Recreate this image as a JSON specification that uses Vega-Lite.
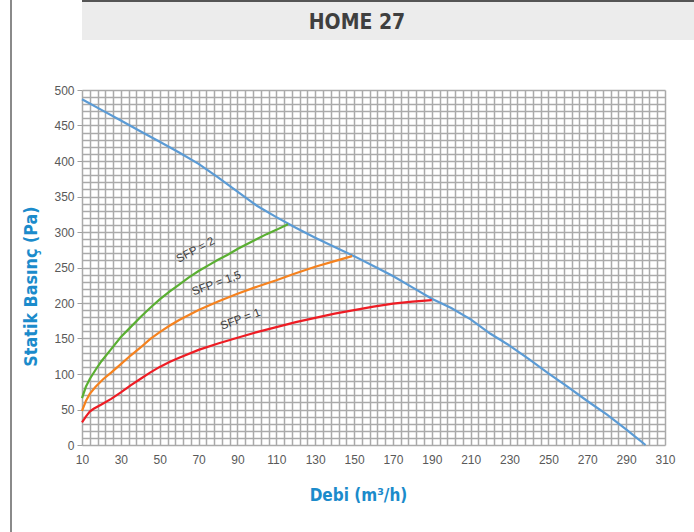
{
  "$schema": "https://vega.github.io/schema/vega-lite/v6.json",
  "background": "white",
  "padding": {"left": 10, "top": 0, "right": 0, "bottom": 0},
  "spacing": 0,
  "config": {"view": {"stroke": null}},
  "hconcat": [
    {
      "width": 2,
      "height": 532,
      "view": {"fill": "#8a8a8a", "stroke": null},
      "data": {"values": []},
      "mark": "rect",
      "encoding": {}
    },
    {
      "columns": 1,
      "spacing": 44,
      "align": "none",
      "concat": [
        {
          "spacing": 0,
          "vconcat": [
            {
              "width": 612,
              "height": 2,
              "view": {"fill": "#555555", "stroke": null},
              "data": {"values": []},
              "mark": "rect",
              "encoding": {}
            },
            {
              "width": 612,
              "height": 38,
              "view": {"fill": "#ececec", "stroke": null},
              "data": {"values": [{"t": "HOME 27"}]},
              "mark": {"type": "text", "font": "Liberation Sans Narrow, DejaVu Sans Condensed, sans-serif", "fontSize": 21, "fontWeight": "bold", "color": "#3f3f3f", "align": "center", "baseline": "middle", "dx": -31, "dy": 2},
              "encoding": {"text": {"field": "t", "type": "nominal"}}
            }
          ]
        },
        {
          "width": 583,
          "height": 355,
          "title": {"text": " ", "orient": "left", "fontSize": 1, "offset": 9},
          "layer": [
            {
              "data": {"values": [
                {"q": 10, "p": 487}, {"q": 20, "p": 472}, {"q": 30, "p": 457}, {"q": 40, "p": 442},
                {"q": 50, "p": 427}, {"q": 60, "p": 412}, {"q": 70, "p": 396}, {"q": 80, "p": 377},
                {"q": 90, "p": 357}, {"q": 100, "p": 337}, {"q": 110, "p": 321}, {"q": 120, "p": 306},
                {"q": 130, "p": 292}, {"q": 140, "p": 279}, {"q": 150, "p": 266}, {"q": 160, "p": 252},
                {"q": 170, "p": 238}, {"q": 180, "p": 222}, {"q": 190, "p": 206}, {"q": 200, "p": 193},
                {"q": 210, "p": 177}, {"q": 220, "p": 157}, {"q": 230, "p": 140}, {"q": 240, "p": 121},
                {"q": 250, "p": 101}, {"q": 260, "p": 82}, {"q": 270, "p": 62}, {"q": 280, "p": 43},
                {"q": 290, "p": 22}, {"q": 300, "p": 0}
              ]},
              "mark": {"type": "line", "color": "#5b9bd5", "strokeWidth": 2.2},
              "encoding": {
                "x": {
                  "field": "q", "type": "quantitative",
                  "scale": {"domain": [10, 310], "nice": false, "zero": false},
                  "axis": {
                    "title": "Debi (m³/h)",
                    "tickCount": 200,
                    "values": [10,14,18,22,26,30,34,38,42,46,50,54,58,62,66,70,74,78,82,86,90,94,98,102,106,110,114,118,122,126,130,134,138,142,146,150,154,158,162,166,170,174,178,182,186,190,194,198,202,206,210,214,218,222,226,230,234,238,242,246,250,254,258,262,266,270,274,278,282,286,290,294,298,302,306,310],
                    "labelExpr": "(datum.value - 10) % 20 === 0 ? datum.label : ''",
                    "grid": true, "gridColor": "#aaaaaa", "gridWidth": 1.5,
                    "domain": false, "ticks": false,
                    "labelFont": "Liberation Sans", "labelFontSize": 12, "labelColor": "#595959",
                    "labelPadding": 9, "labelOverlap": false, "labelFlush": false,
                    "titleFont": "Liberation Sans Narrow, DejaVu Sans Condensed, sans-serif",
                    "titleFontSize": 17, "titleFontWeight": "bold", "titleColor": "#1b8bcb",
                    "titlePadding": 22, "titleX": 276
                  }
                },
                "y": {
                  "field": "p", "type": "quantitative",
                  "scale": {"domain": [0, 500], "nice": false},
                  "axis": {
                    "title": "Statik Basınç (Pa)",
                    "tickCount": 200,
                    "values": [0,10,20,30,40,50,60,70,80,90,100,110,120,130,140,150,160,170,180,190,200,210,220,230,240,250,260,270,280,290,300,310,320,330,340,350,360,370,380,390,400,410,420,430,440,450,460,470,480,490,500],
                    "labelExpr": "datum.value % 50 === 0 ? datum.label : ''",
                    "grid": true, "gridColor": "#aaaaaa", "gridWidth": 1.5,
                    "domain": false,
                    "ticks": true, "tickSize": 5, "tickColor": "#a0a0a0",
                    "tickOpacity": {"condition": {"test": "datum.value % 50 === 0", "value": 1}, "value": 0},
                    "labelFont": "Liberation Sans", "labelFontSize": 12, "labelColor": "#595959",
                    "labelPadding": 3, "labelOverlap": false, "labelFlush": false,
                    "titleFont": "Liberation Sans Narrow, DejaVu Sans Condensed, sans-serif",
                    "titleFontSize": 17.8, "titleFontWeight": "bold", "titleColor": "#1b8bcb",
                    "titlePadding": 13, "titleY": 196
                  }
                }
              }
            },
            {
              "data": {"values": [
                {"q": 10, "p": 32, "sfp": "1"}, {"q": 12, "p": 40, "sfp": "1"}, {"q": 14, "p": 47, "sfp": "1"},
                {"q": 16, "p": 51, "sfp": "1"}, {"q": 20, "p": 57, "sfp": "1"}, {"q": 25, "p": 65, "sfp": "1"},
                {"q": 30, "p": 74, "sfp": "1"}, {"q": 35, "p": 84, "sfp": "1"}, {"q": 40, "p": 93, "sfp": "1"},
                {"q": 45, "p": 102, "sfp": "1"}, {"q": 50, "p": 110, "sfp": "1"}, {"q": 55, "p": 117, "sfp": "1"},
                {"q": 60, "p": 123, "sfp": "1"}, {"q": 70, "p": 134, "sfp": "1"}, {"q": 80, "p": 143, "sfp": "1"},
                {"q": 90, "p": 151, "sfp": "1"}, {"q": 100, "p": 159, "sfp": "1"}, {"q": 110, "p": 166, "sfp": "1"},
                {"q": 120, "p": 173, "sfp": "1"}, {"q": 130, "p": 179, "sfp": "1"}, {"q": 140, "p": 185, "sfp": "1"},
                {"q": 150, "p": 190, "sfp": "1"}, {"q": 160, "p": 195, "sfp": "1"}, {"q": 170, "p": 199, "sfp": "1"},
                {"q": 180, "p": 202, "sfp": "1"}, {"q": 190, "p": 204, "sfp": "1"},
                {"q": 10, "p": 48, "sfp": "1,5"}, {"q": 12, "p": 62, "sfp": "1,5"}, {"q": 14, "p": 72, "sfp": "1,5"},
                {"q": 17, "p": 82, "sfp": "1,5"}, {"q": 21, "p": 93, "sfp": "1,5"}, {"q": 25, "p": 102, "sfp": "1,5"},
                {"q": 30, "p": 114, "sfp": "1,5"}, {"q": 35, "p": 126, "sfp": "1,5"}, {"q": 40, "p": 137, "sfp": "1,5"},
                {"q": 45, "p": 149, "sfp": "1,5"}, {"q": 50, "p": 159, "sfp": "1,5"}, {"q": 55, "p": 168, "sfp": "1,5"},
                {"q": 60, "p": 176, "sfp": "1,5"}, {"q": 65, "p": 183, "sfp": "1,5"}, {"q": 70, "p": 190, "sfp": "1,5"},
                {"q": 75, "p": 196, "sfp": "1,5"}, {"q": 80, "p": 202, "sfp": "1,5"}, {"q": 90, "p": 213, "sfp": "1,5"},
                {"q": 100, "p": 223, "sfp": "1,5"}, {"q": 110, "p": 232, "sfp": "1,5"}, {"q": 120, "p": 242, "sfp": "1,5"},
                {"q": 130, "p": 251, "sfp": "1,5"}, {"q": 140, "p": 259, "sfp": "1,5"}, {"q": 149, "p": 266, "sfp": "1,5"},
                {"q": 10, "p": 66, "sfp": "2"}, {"q": 12, "p": 82, "sfp": "2"}, {"q": 14, "p": 93, "sfp": "2"},
                {"q": 17, "p": 106, "sfp": "2"}, {"q": 20, "p": 118, "sfp": "2"}, {"q": 25, "p": 135, "sfp": "2"},
                {"q": 30, "p": 152, "sfp": "2"}, {"q": 35, "p": 166, "sfp": "2"}, {"q": 40, "p": 180, "sfp": "2"},
                {"q": 45, "p": 193, "sfp": "2"}, {"q": 50, "p": 205, "sfp": "2"}, {"q": 55, "p": 216, "sfp": "2"},
                {"q": 60, "p": 226, "sfp": "2"}, {"q": 65, "p": 236, "sfp": "2"}, {"q": 70, "p": 245, "sfp": "2"},
                {"q": 75, "p": 253, "sfp": "2"}, {"q": 80, "p": 261, "sfp": "2"}, {"q": 85, "p": 268, "sfp": "2"},
                {"q": 90, "p": 276, "sfp": "2"}, {"q": 95, "p": 283, "sfp": "2"}, {"q": 100, "p": 290, "sfp": "2"},
                {"q": 105, "p": 297, "sfp": "2"}, {"q": 110, "p": 303, "sfp": "2"}, {"q": 116, "p": 311, "sfp": "2"}
              ]},
              "mark": {"type": "line", "strokeWidth": 2.2},
              "encoding": {
                "x": {"field": "q", "type": "quantitative"},
                "y": {"field": "p", "type": "quantitative"},
                "color": {
                  "field": "sfp", "type": "nominal",
                  "scale": {"domain": ["1", "1,5", "2"], "range": ["#ee1c24", "#f5821f", "#5aaf32"]},
                  "legend": null
                }
              }
            },
            {
              "data": {"values": [
                {"q": 68.5, "p": 274, "label": "SFP = 2"},
                {"q": 79.3, "p": 227, "label": "SFP = 1,5"},
                {"q": 91.6, "p": 176.5, "label": "SFP = 1"}
              ]},
              "transform": [{"filter": "datum.label === 'SFP = 2'"}],
              "mark": {"type": "text", "angle": 332, "font": "Liberation Sans", "fontSize": 11.5, "color": "#404040", "align": "center", "baseline": "middle"},
              "encoding": {
                "x": {"field": "q", "type": "quantitative"},
                "y": {"field": "p", "type": "quantitative"},
                "text": {"field": "label", "type": "nominal"}
              }
            },
            {
              "data": {"values": [
                {"q": 68.5, "p": 274, "label": "SFP = 2"},
                {"q": 79.3, "p": 227, "label": "SFP = 1,5"},
                {"q": 91.6, "p": 176.5, "label": "SFP = 1"}
              ]},
              "transform": [{"filter": "datum.label !== 'SFP = 2'"}],
              "mark": {"type": "text", "angle": 340, "font": "Liberation Sans", "fontSize": 11.5, "color": "#404040", "align": "center", "baseline": "middle"},
              "encoding": {
                "x": {"field": "q", "type": "quantitative"},
                "y": {"field": "p", "type": "quantitative"},
                "text": {"field": "label", "type": "nominal"}
              }
            }
          ]
        }
      ]
    }
  ]
}
